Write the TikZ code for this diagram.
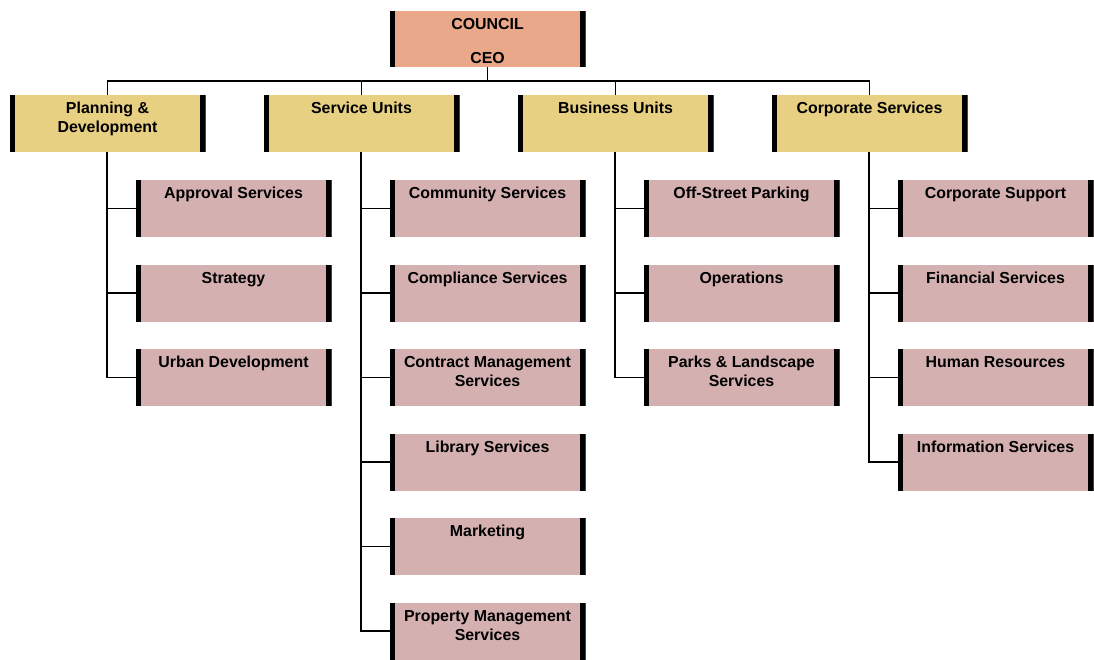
\documentclass[tikz,border=0pt]{standalone}
\usepackage{fontspec}
\setmainfont{Liberation Sans}
\usepackage{tikz}
\usetikzlibrary{positioning}
\usepackage{xcolor}

\definecolor{ceofill}{HTML}{E9A88A}
\definecolor{headfill}{HTML}{E8D082}
\definecolor{kidfill}{HTML}{D4B0B0}

\begin{document}
\begin{tikzpicture}[
    x=1pt, y=-1pt,
    line width=1.4pt,
    unitbox/.style={rectangle, anchor=north, minimum width=196pt, minimum height=57pt,
        inner xsep=3pt, inner ysep=0pt, outer sep=0pt,
        font=\fontsize{15.9}{19}\selectfont\bfseries,
        execute at begin node={\begin{minipage}[t][53pt][t]{188pt}\centering\leavevmode\rule{0pt}{16.5pt}},
        execute at end node={\end{minipage}},
        path picture={
            \fill[black] (path picture bounding box.south west) rectangle ([xshift=5.5pt]path picture bounding box.north west);
            \fill[black] (path picture bounding box.south east) rectangle ([xshift=-5.5pt]path picture bounding box.north east);
        }},
    ceobox/.style={unitbox, fill=ceofill, minimum height=56pt},
    headbox/.style={unitbox, fill=headfill},
    kidbox/.style={unitbox, fill=kidfill},
    node distance=27.5pt
]
    \useasboundingbox (0,0) rectangle (1094,659);

    % top of the tree
    \node[ceobox] (ceo) at (487.5,11) {COUNCIL\\[15pt]CEO};

    % the four branches
    \node[headbox] (pd) at (107.5,95) {Planning \&\\Development};
    \node[headbox] (su) at (361.5,95) {Service Units};
    \node[headbox] (bu) at (615.5,95) {Business Units};
    \node[headbox] (cs) at (869.5,95) {Corporate Services};

    % Planning & Development
    \node[kidbox] (pd1) at (233.5,180) {Approval Services};
    \node[kidbox, below=of pd1] (pd2) {Strategy};
    \node[kidbox, below=of pd2] (pd3) {Urban Development};

    % Service Units
    \node[kidbox] (su1) at (487.5,180) {Community Services};
    \node[kidbox, below=of su1] (su2) {Compliance Services};
    \node[kidbox, below=of su2] (su3) {Contract Management\\Services};
    \node[kidbox, below=of su3] (su4) {Library Services};
    \node[kidbox, below=of su4] (su5) {Marketing};
    \node[kidbox, below=of su5] (su6) {Property Management\\Services};

    % Business Units
    \node[kidbox] (bu1) at (741.5,180) {Off-Street Parking};
    \node[kidbox, below=of bu1] (bu2) {Operations};
    \node[kidbox, below=of bu2] (bu3) {Parks \& Landscape\\Services};

    % Corporate Services
    \node[kidbox] (cs1) at (995.5,180) {Corporate Support};
    \node[kidbox, below=of cs1] (cs2) {Financial Services};
    \node[kidbox, below=of cs2] (cs3) {Human Resources};
    \node[kidbox, below=of cs3] (cs4) {Information Services};

    % connectors
    \coordinate (bus) at (487.5,81);
    \draw (ceo.south) -- (bus);
    \draw (pd.north) |- (bus) -| (cs.north);
    \draw (su.north) -- (su.north |- bus);
    \draw (bu.north) -- (bu.north |- bus);

    \draw ([xshift=-0.5pt]pd.south) |- (pd1.west);
    \draw ([xshift=-0.5pt]pd.south) |- (pd2.west);
    \draw ([xshift=-0.5pt]pd.south) |- (pd3.west);

    \draw ([xshift=-0.5pt]su.south) |- (su1.west);
    \draw ([xshift=-0.5pt]su.south) |- (su2.west);
    \draw ([xshift=-0.5pt]su.south) |- (su3.west);
    \draw ([xshift=-0.5pt]su.south) |- (su4.west);
    \draw ([xshift=-0.5pt]su.south) |- (su5.west);
    \draw ([xshift=-0.5pt]su.south) |- (su6.west);

    \draw ([xshift=-0.5pt]bu.south) |- (bu1.west);
    \draw ([xshift=-0.5pt]bu.south) |- (bu2.west);
    \draw ([xshift=-0.5pt]bu.south) |- (bu3.west);

    \draw ([xshift=-0.5pt]cs.south) |- (cs1.west);
    \draw ([xshift=-0.5pt]cs.south) |- (cs2.west);
    \draw ([xshift=-0.5pt]cs.south) |- (cs3.west);
    \draw ([xshift=-0.5pt]cs.south) |- (cs4.west);
\end{tikzpicture}
\end{document}
